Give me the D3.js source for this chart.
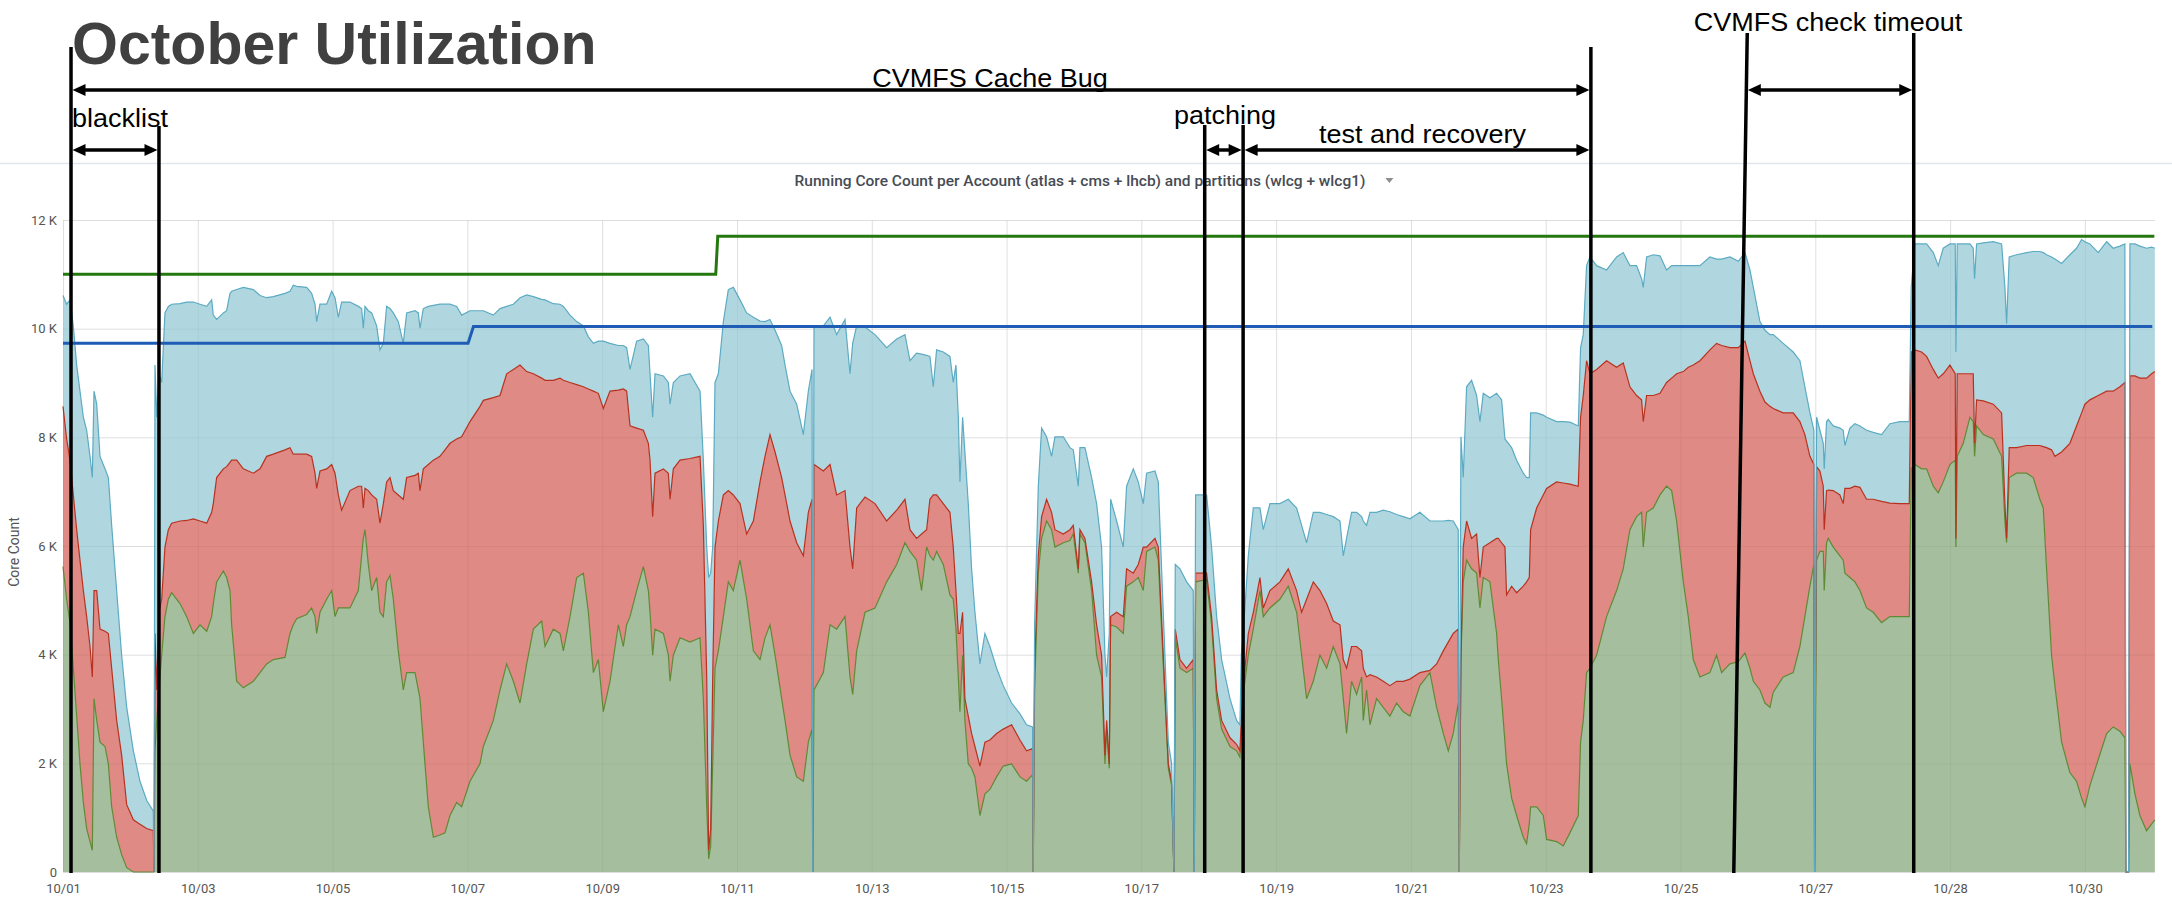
<!DOCTYPE html>
<html><head><meta charset="utf-8">
<script src="https://cdn.jsdelivr.net/npm/d3@7"></script>
<style>html,body{margin:0;padding:0;background:#fff}svg{display:block}</style>
</head><body>
<svg id="chart" width="2172" height="901"></svg>
<script>
// ---------------- DATA ----------------
// x tick positions (days since 10/01 00:00) and their printed labels
const tickDays = [0,2,4,6,8,10,12,14,16,18,20,22,24,26,28,30];
const tickLabels = ["10/01","10/03","10/05","10/07","10/09","10/11","10/13","10/15","10/17","10/19","10/21","10/23","10/25","10/27","10/28","10/30"];
const yTickValues = [0,2000,4000,6000,8000,10000,12000];

// sample times (days since 10/01 00:00)
const timeDays = [
0.000,0.054,0.104,0.153,0.203,0.252,0.302,0.351,0.401,0.435,
0.460,0.500,0.549,0.623,0.673,0.722,0.796,0.870,0.945,1.044,
1.142,1.241,1.340,1.350,1.365,1.390,1.424,1.464,1.513,1.563,
1.612,1.736,1.835,1.934,2.033,2.132,2.206,2.230,2.280,2.379,
2.428,2.478,2.502,2.577,2.676,2.824,2.923,3.022,3.121,3.294,
3.368,3.417,3.467,3.615,3.689,3.739,3.764,3.813,3.912,3.986,
4.036,4.085,4.134,4.258,4.382,4.431,4.456,4.481,4.530,4.580,
4.654,4.703,4.753,4.802,4.852,4.901,4.975,5.049,5.099,5.223,
5.272,5.297,5.346,5.420,5.495,5.593,5.668,5.742,5.841,5.915,
6.039,6.187,
6.237,6.385,6.484,6.583,6.682,6.781,6.880,6.979,7.102,7.152,
7.275,7.374,7.424,7.523,7.622,7.721,7.795,7.869,7.943,8.017,
8.116,8.240,8.314,8.363,8.413,8.512,8.611,8.685,8.710,8.749,
8.784,8.908,8.982,9.007,9.056,9.155,9.303,9.452,9.501,9.551,
9.580,9.610,9.640,9.674,9.724,9.798,9.872,9.946,10.045,10.144,
10.243,10.342,10.416,10.490,10.565,10.663,10.713,10.787,10.886,10.985,
11.059,11.114,11.124,11.143,11.282,11.381,11.479,11.603,11.677,11.717,
11.776,11.900,12.048,12.221,12.370,12.493,12.567,
12.665,12.739,12.814,12.863,12.913,12.962,13.061,13.160,13.209,13.249,
13.284,13.308,13.348,13.382,13.432,13.481,13.531,13.605,13.679,13.753,
13.852,13.951,14.075,14.199,14.297,14.386,14.396,14.416,14.471,14.520,
14.594,14.668,14.718,14.842,14.940,14.990,15.064,15.089,15.163,15.262,
15.336,15.410,15.460,15.485,15.524,15.544,15.633,15.732,15.781,15.880,
15.954,16.029,16.078,16.202,16.251,16.325,16.400,16.449,16.474,16.484,
16.503,16.573,16.672,16.770,16.785,16.805,16.968,17.042,17.117,17.191,
17.315,17.413,17.463,17.483,17.512,17.587,17.661,17.760,17.809,17.908,
18.056,18.180,18.304,18.378,18.452,18.551,18.650,18.749,18.848,18.947,
18.996,19.045,19.119,19.194,19.268,19.293,19.342,19.392,19.490,19.589,
19.688,19.787,19.886,19.985,20.133,20.282,20.381,20.480,20.554,20.628,
20.702,20.717,20.742,20.776,20.826,20.900,20.974,21.024,21.073,21.172,
21.271,21.296,21.345,21.395,21.419,21.494,21.568,21.667,21.716,21.756,
21.776,21.865,21.963,22.013,22.161,22.260,22.359,22.483,22.517,22.557,
22.606,22.656,22.755,22.903,23.052,23.150,23.249,23.348,23.422,23.447,
23.497,23.596,23.695,23.793,23.868,23.942,24.041,24.115,24.189,24.288,
24.436,24.535,24.610,24.733,24.857,24.956,25.030,25.080,25.178,25.253,
25.327,
25.376,25.524,25.672,25.771,25.845,25.920,25.979,25.989,26.019,26.068,
26.118,26.132,26.167,26.192,26.266,26.365,26.414,26.439,26.513,26.587,
26.662,26.760,26.859,26.983,27.107,27.255,27.394,27.423,27.478,27.577,
27.651,27.750,27.824,27.898,27.997,28.076,28.086,28.106,28.195,28.294,
28.343,28.363,28.393,28.492,28.640,28.764,28.813,28.838,28.877,28.986,
29.135,29.233,29.332,29.382,29.431,29.505,29.555,29.654,29.777,29.876,
29.951,30.000,30.074,30.198,30.322,30.420,30.519,30.593,30.608,30.648,
30.668,30.742,30.816,30.915,30.989,31.038
];

// running cores, atlas (bottom layer)
const atlasCores = [
5620,5020,4590,3750,2870,1990,1280,800,560,400,
3190,2790,2390,2310,1990,1200,640,320,80,0,
0,0,0,0,2230,2790,3350,3990,4700,5020,
5140,4940,4700,4390,4550,4430,4700,4940,5340,5540,
5420,5180,4550,3510,3390,3510,3670,3830,3910,3950,
4390,4550,4660,4740,4860,4700,4390,4780,5020,5180,
4700,4860,4860,4860,5180,5820,6140,6300,5660,5180,
5420,4780,4700,5340,5460,5020,4070,3350,3670,3670,
3350,3190,2390,1200,640,680,720,1040,1280,1200,
1670,1990,
2310,2790,3350,3830,3510,3110,3830,4470,4620,4150,
4470,4390,4070,4700,5420,5500,4780,3670,3910,2950,
3510,4550,4150,4550,4700,5180,5620,5180,4780,3990,
4470,4390,3990,3510,3990,4310,4230,4310,3190,1200,
240,480,1990,3750,4070,4700,5340,5180,5740,5020,
4070,3910,4310,4550,3990,3190,2790,2150,1750,1670,
2390,2630,0,3350,3670,4550,4470,4700,3590,3270,
4070,4780,4860,5340,5660,6060,5900,
5740,5180,5980,5820,5740,5900,5660,5100,5020,4470,
3590,2950,3990,2790,1990,1910,1750,1040,1440,1520,
1750,1950,1990,1750,1670,1790,0,3350,5500,6140,
6460,6300,5980,6060,6100,6220,5500,6220,6060,5180,
3990,3590,1990,2630,1910,4550,4510,4390,5260,5340,
5420,5180,5900,5980,5740,3830,1910,1590,400,0,
4310,3750,3670,3750,0,5340,5380,4550,3190,2630,
2310,2230,2110,2630,3270,3990,4470,5180,4700,4860,
5020,5260,4780,3990,3190,3510,3990,3750,4150,3830,
3190,2550,3510,3270,3590,2790,3350,2710,3190,3030,
2870,3110,2950,2870,3430,3670,3030,2550,2230,2550,
3110,0,3910,5340,5740,5580,5500,4860,5420,5340,
4390,3910,3190,2390,1990,1360,1040,640,520,880,
1200,1200,1040,600,560,480,720,1040,2390,2790,
3670,3750,3990,4700,5180,5580,6300,6540,6620,5980,
6620,6700,6940,7100,7020,6460,5340,4700,3910,3590,
3670,3990,3670,3830,3870,4030,3750,3510,3350,3110,
3030,
3310,3590,3670,4150,4700,5260,5660,0,5740,5900,
5900,5180,6060,6140,5980,5820,5740,5500,5420,5340,
5180,4860,4780,4590,4700,4700,4700,7420,7500,7420,
7420,7100,6980,7180,7500,7580,5980,7650,7890,8370,
8290,7650,8210,8050,7970,7650,6460,6060,7260,7340,
7340,7260,6860,6700,5580,3990,3430,2390,1830,1670,
1360,1200,1590,2070,2550,2670,2590,2470,0,0,
1990,1440,1040,760,880,960
];

// running cores, atlas + cms (top of the second layer)
const atlasCmsCores = [
8570,7970,7580,6940,6300,5740,5180,4700,4150,3590,
5180,5180,4470,4430,4390,3750,2790,2150,1240,960,
880,800,760,0,4390,3350,4780,5020,5980,6300,
6420,6460,6470,6500,6460,6420,6620,6780,7260,7420,
7460,7540,7580,7580,7420,7340,7420,7650,7690,7770,
7810,7690,7690,7690,7650,7340,7060,7380,7420,7500,
7340,6940,6660,7020,7100,7100,6700,7060,7020,6940,
6860,6420,6780,7180,7260,7020,6940,6860,7260,7300,
7340,7020,7420,7500,7580,7650,7770,7890,7970,8010,
8290,8570,
8680,8730,8770,9170,9250,9330,9210,9170,9090,9050,
9050,9090,9050,9010,8970,8930,8890,8850,8810,8530,
8850,8870,8890,8850,8210,8170,8130,7890,7580,6540,
7340,7420,7340,6860,7420,7580,7610,7650,6380,3590,
400,800,3590,5980,6460,6940,7020,6940,6780,6220,
6460,7180,7650,8050,7730,7260,6940,6460,6060,5820,
6620,6860,0,7500,7380,7500,6940,7020,5980,5580,
6700,6900,6780,6460,6660,6860,6300,
6140,6220,6300,6860,6940,6940,6780,6620,5980,5180,
4390,4390,4780,3190,2870,2550,2310,1950,2390,2430,
2550,2630,2710,2430,2230,2270,0,3750,5820,6540,
6860,6620,6300,6220,6300,6380,5580,6300,6140,5340,
4550,3990,2150,2790,1990,4700,4780,4700,5580,5500,
5660,5980,5980,6140,5980,3990,1990,1670,400,0,
4470,3910,3750,3910,0,5500,5500,4700,3350,2790,
2470,2350,2230,2790,3430,4390,4780,5420,4860,5180,
5340,5580,5180,4780,5020,5340,5180,4940,4620,4550,
3910,3750,4150,4150,4070,3750,3590,3630,3590,3510,
3430,3510,3510,3550,3670,3710,3830,4070,4230,4390,
4470,0,3990,5980,6460,6140,6220,5420,5980,6060,
6140,6140,6060,5980,5100,5260,5140,5260,5340,5420,
6300,6700,6940,7060,7180,7160,7140,7100,8370,8770,
9410,9170,9250,9410,9290,9370,8930,8770,8690,8290,
8770,8770,8810,9010,9090,9170,9210,9290,9330,9410,
9610,9730,9690,9650,9650,9770,9410,9170,8850,8650,
8570,
8530,8450,8450,8290,8050,7650,7500,0,7460,7380,
7100,6300,7020,7030,7020,6940,6780,7060,7060,7100,
7080,6860,6860,6820,6790,6780,6780,9570,9610,9570,
9490,9250,9090,9170,9330,9170,6140,9170,9170,9170,
9170,7890,8690,8670,8610,8450,6780,6140,7810,7810,
7850,7850,7850,7830,7810,7770,7650,7730,7890,8210,
8450,8610,8690,8770,8850,8850,8930,9010,0,0,
9130,9130,9090,9090,9170,9210
];

// running cores, atlas + cms + lhcb (top of the stack)
const allAccountsCores = [
10610,10450,10530,10050,9330,8850,8370,8130,7650,7260,
8850,8610,7650,7420,7260,6380,5180,3990,3030,2230,
1670,1320,1120,0,9330,8370,9170,9010,10290,10410,
10450,10460,10490,10490,10450,10410,10530,10250,10170,10290,
10330,10650,10690,10720,10760,10720,10610,10570,10590,10650,
10690,10800,10780,10760,10650,10450,10130,10450,10450,10690,
10570,10210,10490,10490,10410,10370,10010,10410,10330,10290,
10050,9610,9730,10410,10370,10290,10130,9730,10290,10330,
10290,10010,10370,10410,10430,10450,10450,10450,10410,10250,
10330,10330,
10330,10250,10370,10410,10450,10570,10620,10590,10540,10530,
10460,10450,10410,10250,10130,10050,9850,9730,9770,9770,
9730,9690,9690,9650,9250,9770,9810,9690,9170,8370,
9170,9130,9010,8610,9010,9130,9170,8850,7580,5980,
5420,5500,5980,9010,9170,10130,10720,10760,10530,10290,
10210,10140,10130,10170,9970,9690,9330,8850,8610,8050,
8850,9250,0,10050,10050,10210,9890,10170,9170,9730,
10050,10030,9890,9650,9810,9890,9410,
9550,9530,9510,9490,8930,9610,9570,9490,9010,9330,
8370,7180,8370,7730,6780,5580,4780,3830,4390,4150,
3750,3430,3110,2910,2710,2670,0,4550,7100,8170,
8010,7650,8010,8010,7810,7770,7100,7810,7810,7260,
6780,5980,3990,3590,4390,6860,6460,5980,7100,7420,
7180,6780,7340,7380,7180,4780,2390,1990,400,0,
5660,5580,5340,5180,0,6940,6940,5980,4700,3910,
3190,2790,2710,3990,4390,5820,6700,6700,6300,6780,
6780,6860,6700,6380,6060,6620,6620,6580,6540,6460,
5820,6140,6620,6620,6540,6460,6380,6620,6620,6660,
6630,6580,6540,6500,6620,6460,6460,6460,6470,6460,
6300,0,8010,7260,8930,9050,8770,8290,8810,8730,
8810,8770,8690,7970,7930,7810,7580,7340,7260,7260,
8450,8450,8410,8370,8290,8290,8280,8210,9650,9890,
11160,11320,11160,11080,11320,11400,11160,11160,10920,10760,
11320,11360,11340,11080,11160,11160,11160,11160,11160,11160,
11320,11280,11280,11320,11240,11400,11080,10760,10130,9970,
9890,
9890,9730,9570,9410,8930,8450,8130,0,8370,8130,
7890,7420,8290,8330,8210,8170,8130,7850,8170,8250,
8210,8130,8090,8050,8250,8290,8290,10760,11560,11560,
11560,11400,11160,11480,11560,11560,9570,11560,11560,11560,
11480,10920,11560,11580,11600,11560,10760,10090,11320,11360,
11400,11420,11420,11400,11360,11320,11280,11200,11360,11480,
11640,11600,11560,11400,11600,11480,11520,11560,0,0,
11560,11560,11520,11480,11500,11480
];

// partition limits (step lines)
const wlcgDays = [0, 9.685, 9.715, 31.03];
const wlcgCores = [11000, 11000, 11700, 11700];
const wlcg1Days = [0, 6.01, 6.09, 31.0];
const wlcg1Cores = [9730, 9730, 10040, 10040];

// annotation markers (days)
const markerDays = [0.119, 1.424, 16.94, 17.51, 22.67, 27.46];
const slantTopDay = 24.99, slantBottomDay = 24.79;

// ---------------- CHART ----------------
const n = timeDays.length;
[atlasCores, atlasCmsCores, allAccountsCores].forEach((a, k) => {
  if (a.length !== n) throw new Error("series " + k + " length " + a.length + " != " + n);
});

const svg = d3.select("#chart");
const X0 = 63, X1 = 2155, Y0 = 872, Y1 = 220;
const x = d3.scaleLinear().domain([0, 31.04]).range([X0, X1]);
const y = d3.scaleLinear().domain([0, 12000]).range([Y0, Y1]);

// title
svg.append("text").attr("x", 72).attr("y", 64)
  .attr("font-family", "'Liberation Sans', Arial, sans-serif").attr("font-weight", "bold")
  .attr("font-size", 59).attr("fill", "#404040").text("October Utilization");

// panel top border
svg.append("line").attr("x1", 0).attr("x2", 2172).attr("y1", 163.5).attr("y2", 163.5)
  .attr("stroke", "#e2e5ee").attr("stroke-width", 1.5);

// panel title
const pt = svg.append("text").attr("x", 1080).attr("y", 186).attr("text-anchor", "middle")
  .attr("font-family", "Roboto, 'Noto Sans', sans-serif").attr("font-weight", 500)
  .attr("font-size", 15.5).attr("fill", "#464c54")
  .text("Running Core Count per Account (atlas + cms + lhcb) and partitions (wlcg + wlcg1)");
const ptw = pt.node().getComputedTextLength();
const cx = 1080 + ptw / 2 + 24;
svg.append("path").attr("d", `M${cx - 4},178 L${cx + 4},178 L${cx},183 Z`).attr("fill", "#8e8e8e");

// grid (under the areas)
const gridLines = (g, color) => {
  g.selectAll("line.h").data(yTickValues).join("line").attr("class", "h")
    .attr("x1", X0).attr("x2", X1).attr("y1", d => y(d) + 0.5).attr("y2", d => y(d) + 0.5)
    .attr("stroke", color).attr("stroke-width", 1);
  g.selectAll("line.v").data(tickDays).join("line").attr("class", "v")
    .attr("x1", d => x(d) + 0.5).attr("x2", d => x(d) + 0.5).attr("y1", Y1).attr("y2", Y0)
    .attr("stroke", color).attr("stroke-width", 1);
};
gridLines(svg.append("g"), "#e9e9ec");

// stacked areas
const table = timeDays.map((t, i) => ({
  t,
  atlas: atlasCores[i],
  cms: Math.max(0, atlasCmsCores[i] - atlasCores[i]),
  lhcb: Math.max(0, allAccountsCores[i] - atlasCmsCores[i])
}));
const keys = ["atlas", "cms", "lhcb"];
const layers = d3.stack().keys(keys)(table);
const fills = { atlas: "#a5bf9e", cms: "#df8a84", lhcb: "#b0d7e0" };
const strokes = { atlas: "#5f8a35", cms: "#b8311f", lhcb: "#5cabc2" };
const area = d3.area().x(d => x(d.data.t)).y0(d => y(d[0])).y1(d => y(d[1]));
const line = d3.line().x(d => x(d.data.t)).y(d => y(d[1]));
const plot = svg.append("g");
plot.selectAll("path.a").data(layers).join("path")
  .attr("d", area).attr("fill", d => fills[d.key]).attr("stroke", "none");
// faint grid showing through the translucent fills
gridLines(svg.append("g"), "rgba(0,0,0,0.045)");
plot.selectAll("path.l").data(layers).join("path").attr("class", "l")
  .attr("d", line).attr("fill", "none").attr("stroke", d => strokes[d.key]).attr("stroke-width", 1.2);
svg.selectAll("path.l").raise();

// partition step lines
const stepLine = d3.line().x(d => x(d[0])).y(d => y(d[1]));
svg.append("path").attr("d", stepLine(wlcgDays.map((t, i) => [t, wlcgCores[i]])))
  .attr("fill", "none").attr("stroke", "#24780f").attr("stroke-width", 3);
svg.append("path").attr("d", stepLine(wlcg1Days.map((t, i) => [t, wlcg1Cores[i]])))
  .attr("fill", "none").attr("stroke", "#1f5cb6").attr("stroke-width", 3);

// axes
const tickFont = "Roboto, 'Noto Sans', sans-serif";
const ax = svg.append("g").attr("transform", `translate(0,${Y0})`)
  .call(d3.axisBottom(x).tickValues(tickDays).tickFormat((d, i) => tickLabels[i]).tickSize(0).tickPadding(12));
ax.select(".domain").remove();
ax.selectAll("text").attr("font-family", tickFont).attr("font-size", 13).attr("fill", "#555");
const ay = svg.append("g").attr("transform", `translate(${X0},0)`)
  .call(d3.axisLeft(y).tickValues(yTickValues).tickFormat(d => d === 0 ? "0" : (d / 1000) + " K").tickSize(0).tickPadding(6));
ay.select(".domain").remove();
ay.selectAll("text").attr("font-family", tickFont).attr("font-size", 13).attr("fill", "#555");
svg.append("text").attr("transform", "translate(19,552) rotate(-90)").attr("text-anchor", "middle")
  .attr("font-family", tickFont).attr("font-size", 14).attr("fill", "#555").text("Core Count");

// annotations
const ann = svg.append("g");
const vl = (xt, yt, xb) => ann.append("line").attr("x1", xt).attr("y1", yt).attr("x2", xb).attr("y2", 873)
  .attr("stroke", "#000").attr("stroke-width", 3.5);
const mx = markerDays.map(x);
vl(mx[0], 47, mx[0]);
vl(mx[1], 126, mx[1]);
vl(mx[2], 125, mx[2]);
vl(mx[3], 125, mx[3]);
vl(mx[4], 47, mx[4]);
vl(x(slantTopDay), 33, x(slantBottomDay));
vl(mx[5], 33, mx[5]);

function arrow(xa, xb, yy) {
  const h = 13, w = 6;
  const a = xa + 1.5, b = xb - 1.5;
  ann.append("line").attr("x1", a + h - 1).attr("x2", b - h + 1).attr("y1", yy).attr("y2", yy)
    .attr("stroke", "#000").attr("stroke-width", 3.5);
  ann.append("path").attr("d", `M${a},${yy} L${a + h},${yy - w} L${a + h},${yy + w} Z`).attr("fill", "#000");
  ann.append("path").attr("d", `M${b},${yy} L${b - h},${yy - w} L${b - h},${yy + w} Z`).attr("fill", "#000");
}
const slantAt = yy => x(slantTopDay) + (x(slantBottomDay) - x(slantTopDay)) * (yy - 33) / (873 - 33);
arrow(mx[0], mx[4], 90);
arrow(mx[0], mx[1], 150);
arrow(mx[2], mx[3], 150);
arrow(mx[3], mx[4], 150);
arrow(slantAt(90), mx[5], 90);

function label(txt, xx, yy, anchor) {
  ann.append("text").attr("transform", `translate(${xx},${yy}) scale(1.08,1)`)
    .attr("text-anchor", anchor).attr("font-family", "'Liberation Sans', Arial, sans-serif")
    .attr("font-size", 25).attr("fill", "#000").text(txt);
}
label("CVMFS Cache Bug", 990, 87, "middle");
label("blacklist", 72, 127, "start");
label("patching", 1225, 124, "middle");
label("test and recovery", 1319, 143, "start");
label("CVMFS check timeout", 1828, 31, "middle");
</script>
</body></html>
